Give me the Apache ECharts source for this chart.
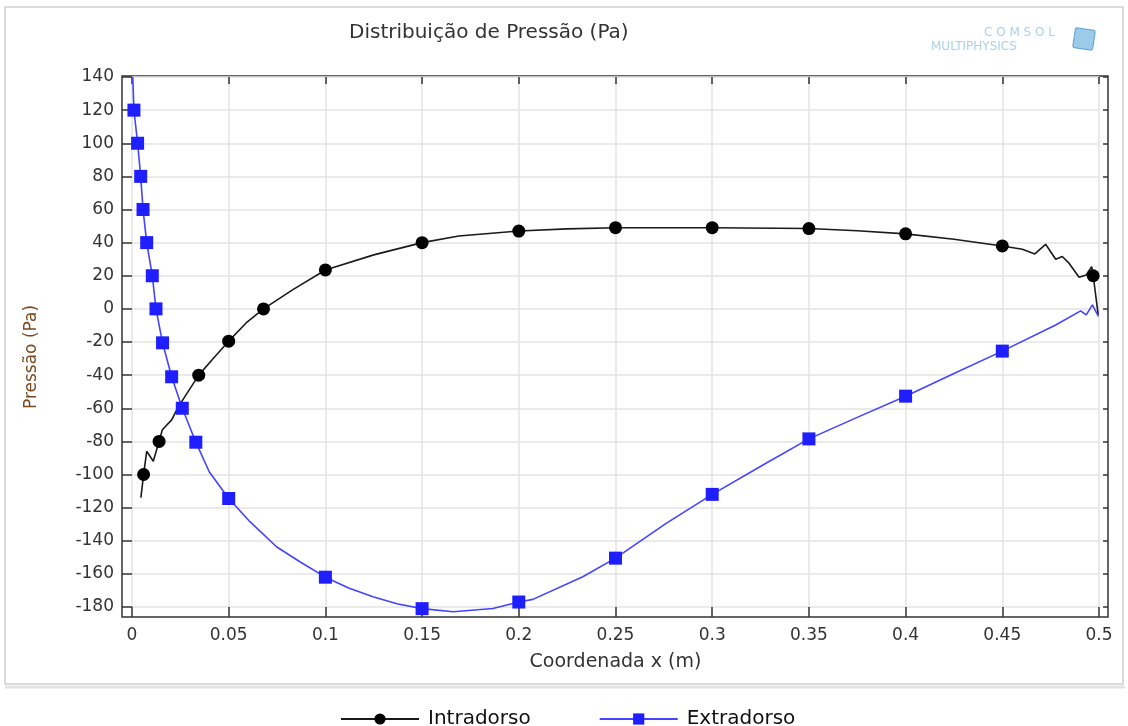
<!DOCTYPE html>
<html>

<head>
    <meta charset="utf-8">
    <title>Distribuição de Pressão</title>
    <style>
        html, body { margin: 0; padding: 0; background: #fff; }
        #chart { width: 1128px; height: 726px; }
    </style>
</head>

<body>
    <div id="chart"></div>

    <script src="https://cdn.jsdelivr.net/npm/echarts@6/dist/echarts.min.js"></script>
    <script>
        // eixos
        const xTicks = [0, 0.5, 0.05];       // min, max, intervalo
        const yTicks = [-180, 140, 20];

        // Intradorso (linha preta, marcadores circulares)
        const intradorsoLine = [
            [0.0046, -114], [0.006, -100], [0.0076, -86], [0.011, -92], [0.014, -80],
            [0.0157, -73], [0.0205, -67], [0.024, -59], [0.0345, -40], [0.042, -30],
            [0.05, -19.5], [0.059, -8.5], [0.068, 0], [0.083, 11.5], [0.1, 23.5],
            [0.125, 32.6], [0.15, 40], [0.169, 44], [0.2, 47], [0.225, 48.3],
            [0.25, 49], [0.3, 49], [0.35, 48.5], [0.375, 47.2], [0.4, 45.3],
            [0.425, 42], [0.45, 38], [0.4604, 36], [0.4668, 33.2], [0.4724, 39],
            [0.4776, 30], [0.481, 31.6], [0.4845, 27.6], [0.4897, 19.1], [0.4934, 20.5],
            [0.4962, 25.5], [0.497, 20], [0.4996, -3.6]
        ];
        const intradorsoMarkX = [0.006, 0.014, 0.0345, 0.05, 0.068, 0.1, 0.15, 0.2, 0.25, 0.3, 0.35, 0.4, 0.45, 0.497];

        // Extradorso (linha azul, marcadores quadrados)
        const extradorsoLine = [
            [0.0004, 140], [0.001, 120], [0.0029, 100], [0.0045, 80], [0.0057, 60],
            [0.0076, 40], [0.0105, 20], [0.0124, 0], [0.0158, -20.5], [0.0205, -41],
            [0.026, -60], [0.033, -80.5], [0.04, -98.5], [0.05, -114.5], [0.061, -128.5],
            [0.0747, -143.6], [0.0868, -152.7], [0.1, -162], [0.112, -168.5], [0.1246, -173.8],
            [0.137, -178], [0.15, -181], [0.166, -182.9], [0.1866, -180.9], [0.2, -177],
            [0.2073, -175.4], [0.2331, -161.7], [0.25, -150.5], [0.2762, -129.5], [0.3, -112],
            [0.3278, -93.2], [0.35, -78.5], [0.375, -65.5], [0.4, -52.7], [0.425, -39],
            [0.45, -25.5], [0.4776, -9.7], [0.4905, -1.2], [0.4934, -3.6], [0.4966, 2.4],
            [0.4997, -4.6]
        ];
        const extradorsoMarkX = [0.001, 0.0029, 0.0045, 0.0057, 0.0076, 0.0105, 0.0124, 0.0158, 0.0205,
            0.026, 0.033, 0.05, 0.1, 0.15, 0.2, 0.25, 0.3, 0.35, 0.4, 0.45];

        // só mostra o marcador nos pontos marcados
        function withMarks(line, markX) {
            return line.map(p => markX.indexOf(p[0]) >= 0 ? { value: p } : { value: p, symbol: 'none' });
        }

        const chart = echarts.init(document.getElementById('chart'));
        const font = 'DejaVu Sans';
        const tickStyle = { color: '#333', width: 1.5 };

        const option = {
            backgroundColor: '#fff',
            animation: false,
            title: {
                text: 'Distribuição de Pressão (Pa)',
                left: 344,
                top: 18,
                textStyle: { fontFamily: font, fontSize: 20, fontWeight: 'normal', color: '#333' }
            },
            graphic: [
                // moldura externa
                {
                    type: 'rect', shape: { x: 5, y: 7, width: 1118, height: 677 },
                    style: { fill: 'none', stroke: '#cfcfcf', lineWidth: 1.5 }, silent: true
                },
                {
                    type: 'line', shape: { x1: 5, y1: 687, x2: 1125, y2: 687 },
                    style: { stroke: '#e4e4e4', lineWidth: 3 }, silent: true
                },
                // logo
                {
                    type: 'text', left: 984, top: 27,
                    style: { text: 'C O M S O L', fill: '#a9d2ea', font: '12px "DejaVu Sans"' }, silent: true
                },
                {
                    type: 'text', left: 931, top: 41,
                    style: { text: 'MULTIPHYSICS', fill: '#a9d2ea', font: '12px "DejaVu Sans"' }, silent: true
                },
                {
                    type: 'rect', shape: { x: 1074, y: 29, width: 20, height: 20, r: 2 },
                    rotation: -0.15, originX: 1084, originY: 39,
                    style: { fill: '#9ccbea', stroke: '#5aa0cf', lineWidth: 1 }, silent: true
                }
            ],
            legend: {
                left: 335,
                top: 704,
                itemWidth: 78,
                itemHeight: 14,
                itemGap: 68,
                textStyle: { fontFamily: font, fontSize: 20, color: '#111', padding: [0, 0, 0, 4] },
                data: ['Intradorso', 'Extradorso']
            },
            grid: [
                { left: 132, right: 29, top: 77, bottom: 119 },
                { left: 122, right: 20, top: 76, bottom: 109, show: true, borderColor: '#333', borderWidth: 1.5, backgroundColor: 'transparent' }
            ],
            xAxis: [
                {
                    type: 'value', gridIndex: 0, position: 'bottom', min: xTicks[0], max: xTicks[1], interval: xTicks[2],
                    name: 'Coordenada x (m)', nameLocation: 'middle', nameGap: 46,
                    nameTextStyle: { fontFamily: font, fontSize: 19, color: '#333' },
                    axisLine: { show: false, onZero: false },
                    axisTick: { show: true, inside: false, length: 10, lineStyle: tickStyle },
                    axisLabel: { fontFamily: font, fontSize: 17, color: '#333', margin: 20 },
                    splitLine: { show: true, lineStyle: { color: '#e3e3e3', width: 1.5 } }
                },
                {
                    type: 'value', gridIndex: 0, position: 'top', min: xTicks[0], max: xTicks[1], interval: xTicks[2],
                    axisLine: { show: false, onZero: false },
                    axisTick: { show: true, inside: true, length: 7, lineStyle: tickStyle },
                    axisLabel: { show: false },
                    splitLine: { show: false }
                },
                { type: 'value', gridIndex: 1, show: false, min: 0, max: 1 }
            ],
            yAxis: [
                {
                    type: 'value', gridIndex: 0, position: 'left', min: yTicks[0], max: yTicks[1], interval: yTicks[2],
                    name: 'Pressão (Pa)', nameLocation: 'middle', nameGap: 92,
                    nameTextStyle: { fontFamily: font, fontSize: 17, color: '#7a4a20', padding: [0, 30, 0, 0] },
                    axisLine: { show: false, onZero: false },
                    axisTick: { show: true, inside: false, length: 10, lineStyle: tickStyle },
                    axisLabel: { fontFamily: font, fontSize: 17, color: '#333', margin: 18 },
                    splitLine: { show: true, lineStyle: { color: '#e3e3e3', width: 1.5 } }
                },
                {
                    type: 'value', gridIndex: 0, position: 'right', offset: 9,
                    min: yTicks[0], max: yTicks[1], interval: yTicks[2],
                    axisLine: { show: false, onZero: false },
                    axisTick: { show: true, inside: true, length: 5, lineStyle: tickStyle },
                    axisLabel: { show: false },
                    splitLine: { show: false }
                },
                { type: 'value', gridIndex: 1, show: false, min: 0, max: 1 }
            ],
            series: [
                {
                    name: 'Intradorso',
                    type: 'line',
                    xAxisIndex: 0, yAxisIndex: 0,
                    clip: false,
                    symbol: 'circle',
                    symbolSize: 13,
                    showAllSymbol: true,
                    lineStyle: { color: '#1a1a1a', width: 1.6 },
                    itemStyle: { color: '#000' },
                    data: withMarks(intradorsoLine, intradorsoMarkX)
                },
                {
                    name: 'Extradorso',
                    type: 'line',
                    xAxisIndex: 0, yAxisIndex: 0,
                    clip: false,
                    symbol: 'rect',
                    symbolSize: 13,
                    showAllSymbol: true,
                    lineStyle: { color: '#4444ff', width: 1.6 },
                    itemStyle: { color: '#1e1eff' },
                    data: withMarks(extradorsoLine, extradorsoMarkX)
                }
            ]
        };

        chart.setOption(option);
    </script>
</body>

</html>
